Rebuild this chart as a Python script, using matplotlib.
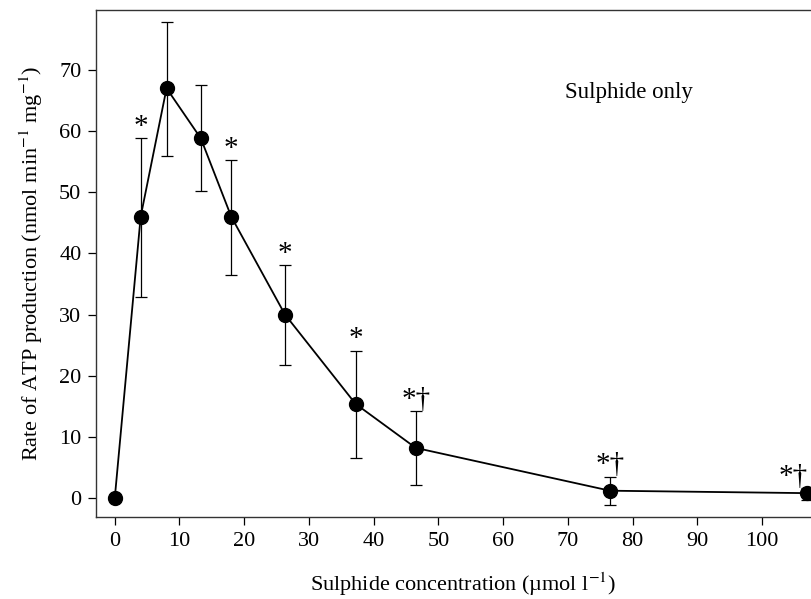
import numpy as np
import matplotlib
matplotlib.use("Agg")
import matplotlib.pyplot as plt

# sulphide concentration (umol l-1) and ATP production rate
conc = [0, 4, 8, 13.3, 18, 26.3, 37.2, 46.5, 76.5, 107]
rate = [0, 46, 67, 58.8, 46, 30, 15.4, 8.2, 1.2, 0.8]
err_hi = [0, 58.9, 77.9, 67.5, 55.3, 38.1, 24.1, 14.2, 3.5, 1.6]
err_lo = [0, 32.9, 55.9, 50.2, 36.5, 21.7, 6.5, 2.2, -1.1, -0.4]
marks = ["", "*", "", "", "*", "*", "*", "*\u2020", "*\u2020", "*\u2020"]

plt.rcParams["font.family"] = ["Liberation Serif", "DejaVu Serif"]
plt.rcParams["mathtext.fontset"] = "stix"

fig = plt.figure(figsize=(8.11, 5.99), dpi=100)
ax = fig.add_axes([96 / 811, 82 / 599, 734 / 811, 507 / 599])

rate = np.array(rate)
yerr = np.array([rate - np.array(err_lo), np.array(err_hi) - rate])
ax.errorbar(conc, rate, yerr=yerr, fmt="none", ecolor="black", elinewidth=0.9,
            capsize=4, capthick=0.9, zorder=2)
ax.plot(conc, rate, "-o", color="black", lw=1.3, ms=10, zorder=3)

for i, (x, top, m) in enumerate(zip(conc, err_hi, marks)):
    if not m:
        continue
    # last label sits at the right edge, nudge it inward
    dx = -10 if i == len(conc) - 1 else 0
    ax.annotate(m, (x, top), xytext=(dx, 3), textcoords="offset points",
                ha="center", va="baseline", fontsize=21, annotation_clip=False)

ax.text(69.5, 66.3, "Sulphide only", fontsize=16.5, va="center", ha="left")

ax.set_xlim(-2.9, 110.5)
ax.set_ylim(-3.1, 79.8)
ax.set_xticks(np.arange(0, 101, 10))
ax.set_yticks(np.arange(0, 71, 10))
ax.tick_params(direction="out", length=5.5, width=0.9, labelsize=16, pad=5)
for s in ax.spines.values():
    s.set_linewidth(1.0)
    s.set_color("#333333")

ax.set_xlabel("Sulphide concentration (\u00b5mol l$^{-1}$)", fontsize=16, labelpad=14)
ax.set_ylabel("Rate of ATP production (nmol min$^{-1}$ mg$^{-1}$)", fontsize=16, labelpad=10)

fig.savefig("out.png", dpi=100)
